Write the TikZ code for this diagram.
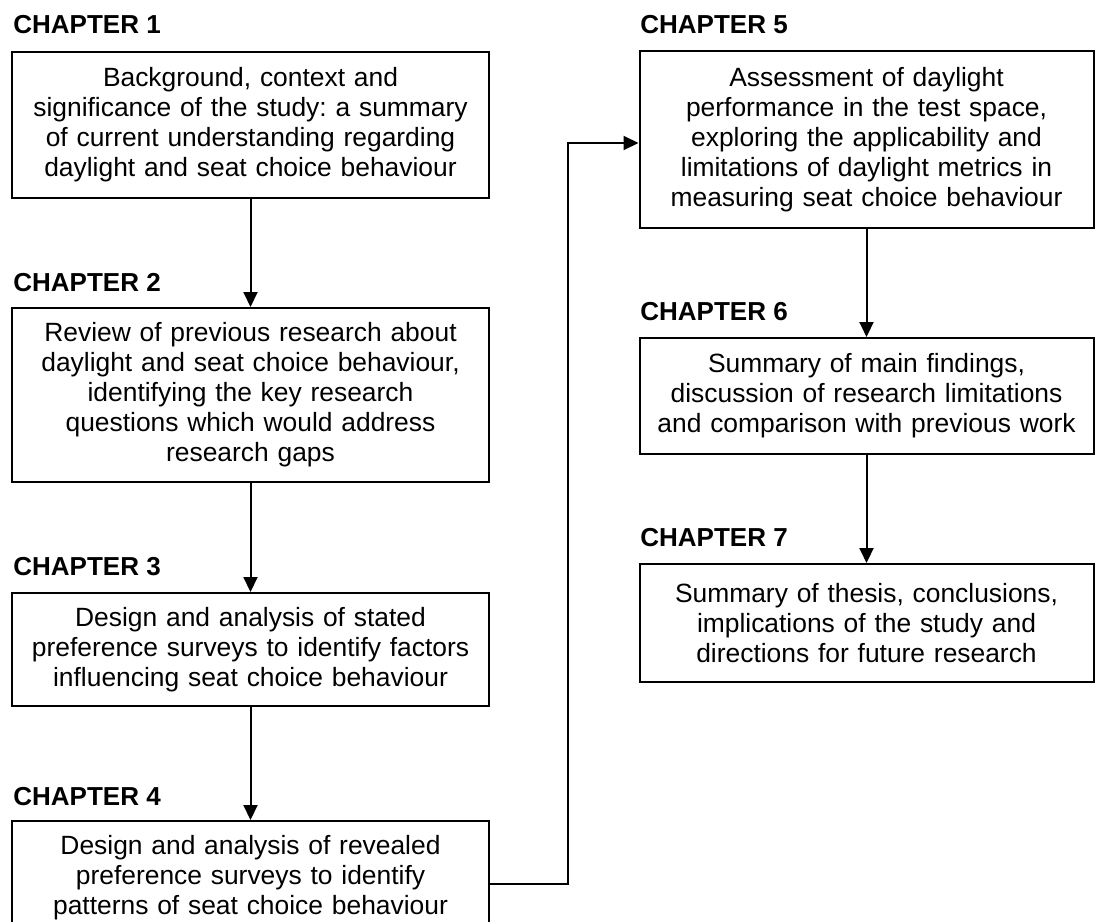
\documentclass[tikz,border=0pt]{standalone}
\usepackage{fontspec}
\setmainfont{Liberation Sans}
\usepackage{tikz}
\usetikzlibrary{arrows.meta, positioning}
\frenchspacing

\tikzset{
  chaphead/.style={anchor=west, inner sep=0pt, font=\bfseries\fontsize{13}{15}\selectfont},
  lbox/.style={draw, line width=1pt, anchor=north, align=center, inner sep=0pt,
    text width=238.5pt, font=\fontsize{13.2}{15}\selectfont},
  rbox/.style={lbox, text width=227pt},
  flow/.style={line width=1pt, -{Triangle[length=7.5pt,width=7pt]}}
}

\begin{document}
\begin{tikzpicture}[x=0.5pt, y=-0.5pt]
  \useasboundingbox (0,0) rectangle (1095,921);
  \clip (0,0) rectangle (1095,921);

  \node[chaphead] (h1) at (13,25) {CHAPTER 1};
  \node[lbox, minimum height=73pt] (ch1) at (250.5,51)
    {Background, context and\\significance of the study: a summary\\of current understanding regarding\\daylight and seat choice behaviour};
  \node[chaphead] (h2) at (13,283) {CHAPTER 2};
  \node[lbox, minimum height=87pt] (ch2) at (250.5,307)
    {Review of previous research about\\daylight and seat choice behaviour,\\identifying the key research\\questions which would address\\research gaps};
  \node[chaphead] (h3) at (13,567) {CHAPTER 3};
  \node[lbox, minimum height=56.5pt] (ch3) at (250.5,592)
    {Design and analysis of stated\\preference surveys to identify factors\\influencing seat choice behaviour};
  \node[chaphead] (h4) at (13,797) {CHAPTER 4};
  \node[lbox, minimum height=56.5pt] (ch4) at (250.5,820)
    {Design and analysis of revealed\\preference surveys to identify\\patterns of seat choice behaviour};

  \node[chaphead] (h5) at (640,25) {CHAPTER 5};
  \node[rbox, minimum height=88.5pt] (ch5) at (866.5,50)
    {Assessment of daylight\\performance in the test space,\\exploring the applicability and\\limitations of daylight metrics in\\measuring seat choice behaviour};
  \node[chaphead] (h6) at (640,312) {CHAPTER 6};
  \node[rbox, minimum height=58pt] (ch6) at (866.5,337)
    {Summary of main findings,\\discussion of research limitations\\and comparison with previous work};
  \node[chaphead] (h7) at (640,538) {CHAPTER 7};
  \node[rbox, minimum height=59pt] (ch7) at (866.5,563)
    {Summary of thesis, conclusions,\\implications of the study and\\directions for future research};

  \draw[flow] (ch1.south) -- (ch2.north);
  \draw[flow] (ch2.south) -- (ch3.north);
  \draw[flow] (ch3.south) -- (ch4.north);
  \draw[flow] ([yshift=-3.25pt]ch4.east) -- ++(78,0) |- ([yshift=-1.75pt]ch5.west);
  \draw[flow] (ch5.south) -- (ch6.north);
  \draw[flow] (ch6.south) -- (ch7.north);
\end{tikzpicture}
\end{document}
